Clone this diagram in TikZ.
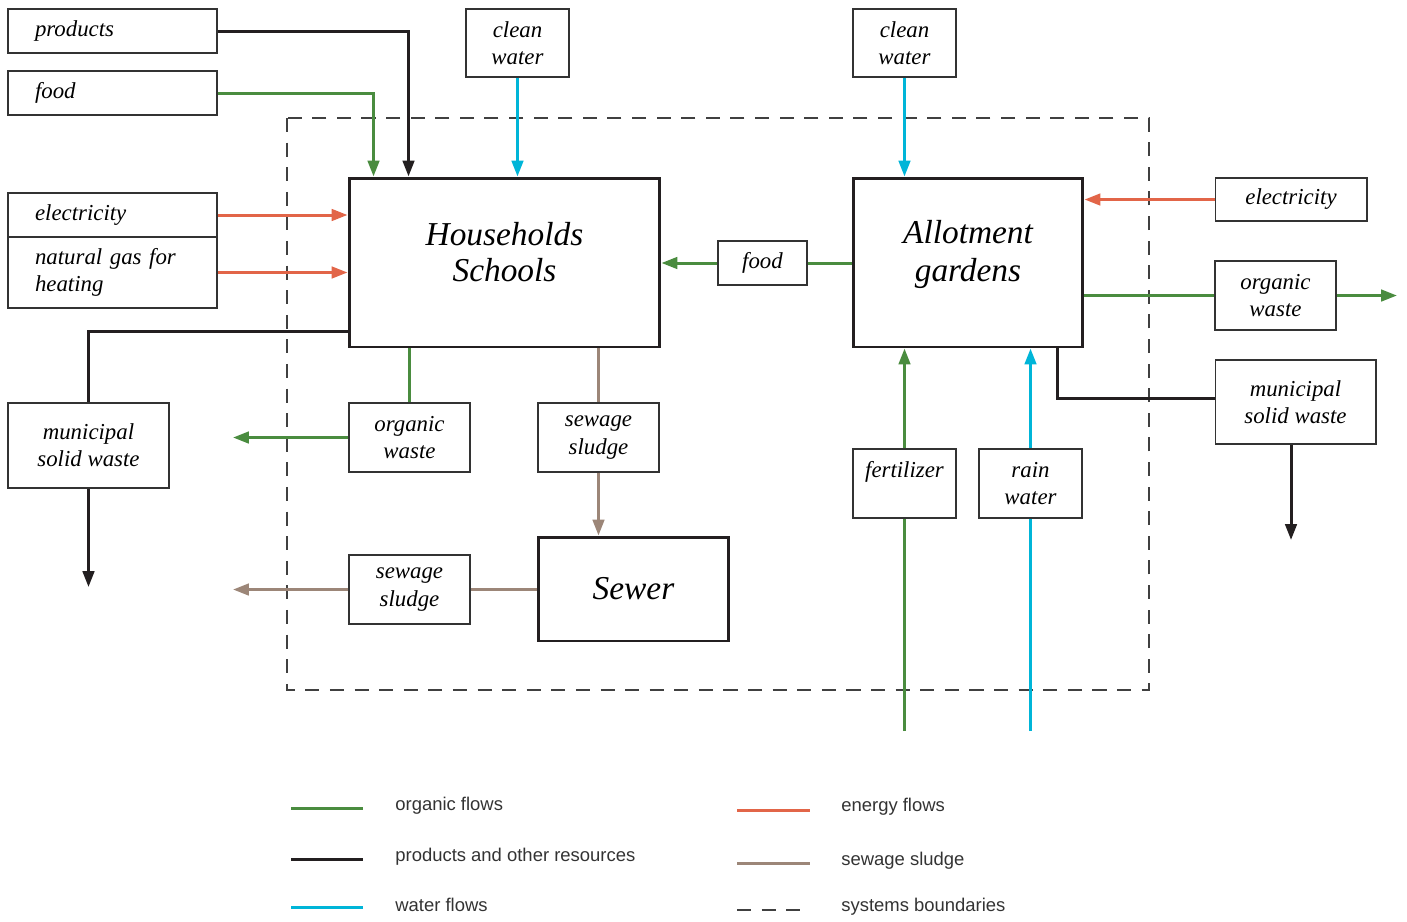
\documentclass[tikz,border=0pt]{standalone}
\usepackage{fontspec}
\setmainfont{Liberation Serif}
\setsansfont{Liberation Sans}
\usetikzlibrary{arrows.meta}

\definecolor{flowgreen}{RGB}{74,140,63}
\definecolor{flowred}{RGB}{226,101,72}
\definecolor{flowblue}{RGB}{0,181,216}
\definecolor{flowbrown}{RGB}{156,134,120}
\definecolor{flowblack}{RGB}{35,31,32}

\tikzset{
    box/.style={draw=black!80, line width=0.6pt, fill=white, align=center, inner sep=2pt,
        font=\itshape\fontsize{13}{15.5}\selectfont},
    leftbox/.style={box, align=left, text width=3.1cm, inner xsep=0.54cm, minimum height=0.88cm},
    bigbox/.style={draw=flowblack, line width=1.7pt, fill=white, align=center,
        font=\itshape\fontsize{19}{21}\selectfont},
    flow/.style={line width=1.7pt},
    organic/.style={flow, draw=flowgreen},
    product/.style={flow, draw=flowblack},
    water/.style={flow, draw=flowblue},
    energy/.style={flow, draw=flowred},
    sludge/.style={flow, draw=flowbrown},
    tip/.style={-{Triangle[length=9pt,width=6.5pt]}},
    boundary/.style={draw=black!75, line width=0.7pt, dash pattern=on 8pt off 6pt},
    legendtext/.style={anchor=west, inner sep=0pt, text=black!80, font=\sffamily\fontsize{10.5}{12}\selectfont}
}

\begin{document}
\begin{tikzpicture}[x=0.02cm, y=-0.02cm]
    \useasboundingbox (0,0) rectangle (1407,921);

    \draw[boundary] (287,118) rectangle (1149,690);

    \node[leftbox] (products) at (112.5,31) {products};
    \node[leftbox] (foodL) at (112.5,93) {food};
    \node[leftbox] (elecL) at (112.5,215) {electricity};
    \node[leftbox, minimum height=1.42cm] (gas) at (112.5,272.5) {natural gas for\\heating};
    \node[box, minimum width=3.22cm, minimum height=1.7cm] (muniL) at (88.5,445.5) {municipal\\solid waste};

    \node[box, minimum width=2.06cm, minimum height=1.36cm] (cleanA) at (517.5,43) {clean\\water};
    \node[box, minimum width=2.06cm, minimum height=1.36cm] (cleanB) at (904.5,43) {clean\\water};

    \node[bigbox, minimum width=6.22cm, minimum height=3.38cm, text depth=12pt] (house) at (504.5,262.5) {Households\\Schools};
    \node[bigbox, minimum width=4.6cm, minimum height=3.38cm, text depth=13pt, execute at begin node={\baselineskip=22pt}] (garden) at (968,262.5) {Allotment\\gardens};
    \node[bigbox, minimum width=3.82cm, minimum height=2.08cm] (sewer) at (633.5,589) {Sewer};

    \node[box, minimum width=1.78cm, minimum height=0.88cm] (foodM) at (762.5,263) {food};
    \node[box, minimum width=2.42cm, minimum height=1.38cm] (orgM) at (409.5,437.5) {organic\\waste};
    \node[box, minimum width=2.42cm, minimum height=1.38cm] (sludgeT) at (598.5,437.5) {sewage\\sludge};
    \node[box, minimum width=2.42cm, minimum height=1.38cm] (sludgeB) at (409.5,589.5) {sewage\\sludge};

    \node[box, minimum width=3.04cm, minimum height=0.86cm] (elecR) at (1291,199.5) {electricity};
    \node[box, minimum width=2.42cm, minimum height=1.38cm] (orgR) at (1275.5,295.5) {organic\\waste};
    \node[box, minimum width=3.22cm, minimum height=1.68cm] (muniR) at (1295.5,402) {municipal\\solid waste};

    \node[box, minimum width=2.06cm, minimum height=1.38cm] (fert) at (904.5,483.5) {fertilizer\\\mbox{}};
    \node[box, minimum width=2.06cm, minimum height=1.38cm] (rain) at (1030.5,483.5) {rain\\water};

    \coordinate (muniLend) at (88.5,587);
    \coordinate (orgMend) at (233,437.5);
    \coordinate (sludgeBend) at (233,589.5);
    \coordinate (orgRend) at (1397,295.5);
    \coordinate (muniRend) at (1291,540);
    \coordinate (fertstart) at (904.5,731);
    \coordinate (rainstart) at (1030.5,731);

    \draw[product, tip] (products.east) -| ([xshift=1.22cm]house.north west);
    \draw[organic, tip] (foodL.east) -| ([xshift=0.52cm]house.north west);
    \draw[water, tip] (cleanA.south) -- (cleanA.south |- house.north);
    \draw[water, tip] (cleanB.south) -- (cleanB.south |- garden.north);
    \draw[energy, tip] (elecL.east) -- (elecL.east -| house.west);
    \draw[energy, tip] (gas.east) -- (gas.east -| house.west);

    \draw[product] ([yshift=0.34cm]house.south west) -| (muniL.north);
    \draw[product, tip] (muniL.south) -- (muniLend);
    \draw[organic] (orgM.north |- house.south) -- (orgM.north);
    \draw[organic, tip] (orgM.west) -- (orgMend);
    \draw[sludge] (sludgeT.north |- house.south) -- (sludgeT.north);
    \draw[sludge, tip] (sludgeT.south) -- (sludgeT.south |- sewer.north);
    \draw[sludge] (sewer.west) -- (sewer.west -| sludgeB.east);
    \draw[sludge, tip] (sludgeB.west) -- (sludgeBend);

    \draw[organic] (garden.west |- foodM.east) -- (foodM.east);
    \draw[organic, tip] (foodM.west) -- (foodM.west -| house.east);
    \draw[energy, tip] (elecR.west) -- (elecR.west -| garden.east);
    \draw[organic] (orgR.west -| garden.east) -- (orgR.west);
    \draw[organic, tip] (orgR.east) -- (orgRend);
    \draw[product] ([xshift=-0.54cm]garden.south east) |- ([yshift=0.08cm]muniR.west);
    \draw[product, tip] (muniRend |- muniR.south) -- (muniRend);
    \draw[organic] (fertstart) -- (fert.south);
    \draw[organic, tip] (fert.north) -- (fert.north |- garden.south);
    \draw[water] (rainstart) -- (rain.south);
    \draw[water, tip] (rain.north) -- (rain.north |- garden.south);

    \draw[organic] (291,808) -- (363,808);
    \node[legendtext] (lgorganic) at (395,806) {organic flows};
    \draw[product] (291,859) -- (363,859);
    \node[legendtext] (lgproduct) at (395,857) {products and other resources};
    \draw[water] (291,907) -- (363,907);
    \node[legendtext] (lgwater) at (395,905) {water flows};
    \draw[energy] (737,810) -- (810,810);
    \node[legendtext] (lgenergy) at (841,807) {energy flows};
    \draw[sludge] (737,863) -- (810,863);
    \node[legendtext] (lgsludge) at (841,861) {sewage sludge};
    \draw[boundary] (737,910) -- (810,910);
    \node[legendtext] (lgboundary) at (841,907) {systems boundaries};
\end{tikzpicture}
\end{document}
